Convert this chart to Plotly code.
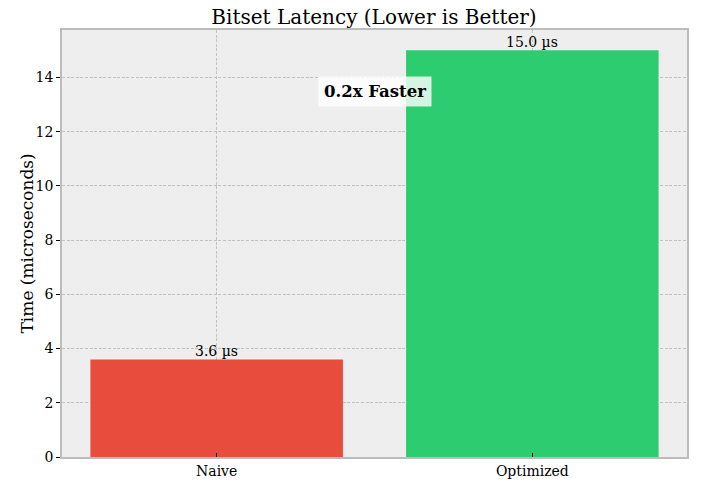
import plotly.graph_objects as go

categories = ["Naive", "Optimized"]
times_us = [3.6, 15.0]
bar_colors = ["#e74c3c", "#2ecc71"]
speedup_label = "0.2x Faster"
y_label = "Time (microseconds)"

font_family = "DejaVu Serif"
positions = list(range(len(categories)))

W, H = 722, 483
ML, MR, MT, MB = 62, 35, 30, 26
plot_w = W - ML - MR

fig = go.Figure()
fig.add_trace(go.Bar(
    x=positions, y=times_us, width=0.8,
    marker=dict(color=bar_colors, line=dict(width=0)),
    hoverinfo="skip",
))

for xi, v in zip(positions, times_us):
    fig.add_annotation(
        x=xi, y=v, xref="x", yref="y", text=f"{v:.1f} µs",
        showarrow=False, yanchor="bottom", yshift=-2,
        font=dict(family=font_family, size=14, color="black"),
    )

fig.add_annotation(
    x=0.5, y=times_us[1] * 0.9, xref="x", yref="y",
    text=f"<b>{speedup_label}</b>", showarrow=False,
    font=dict(family=font_family, size=16.5, color="black"),
    bgcolor="rgba(255,255,255,0.8)", borderpad=5,
)

# y-axis title as a rotated annotation
fig.add_annotation(
    x=(26 - ML) / plot_w, y=0.5, xref="paper", yref="paper",
    text=y_label, textangle=-90, showarrow=False,
    xanchor="center", yanchor="middle",
    font=dict(family=font_family, size=17, color="black"),
)

grid = dict(showgrid=True, gridcolor="#c2c2c2", griddash="3px,1.6px", gridwidth=0.8)

fig.update_layout(
    width=W, height=H,
    margin=dict(l=ML, r=MR, t=MT, b=MB),
    paper_bgcolor="white", plot_bgcolor="#eeeeee",
    font=dict(family=font_family, size=14, color="black"),
    title=dict(text="Bitset Latency (Lower is Better)", x=374 / W, xanchor="center",
               y=1 - 17 / H, yanchor="middle", font=dict(size=20)),
    showlegend=False,
)
fig.update_xaxes(
    range=[-0.49, 1.49], tickvals=positions, ticktext=categories,
    ticks="inside", ticklen=4, tickcolor="black", automargin=False,
    showline=True, linecolor="#bcbcbc", linewidth=1.5, mirror=True, zeroline=False,
    **grid,
)
fig.update_yaxes(
    range=[0, 15.75], dtick=2, automargin=False,
    ticks="outside", ticklen=4, tickcolor="black",
    showline=True, linecolor="#bcbcbc", linewidth=1.5, mirror=True, zeroline=False,
    **grid,
)

fig.write_html(
    "out.html",
    config={"displayModeBar": False},
    post_script="document.body.style.margin='0';document.body.style.overflow='hidden';",
)
